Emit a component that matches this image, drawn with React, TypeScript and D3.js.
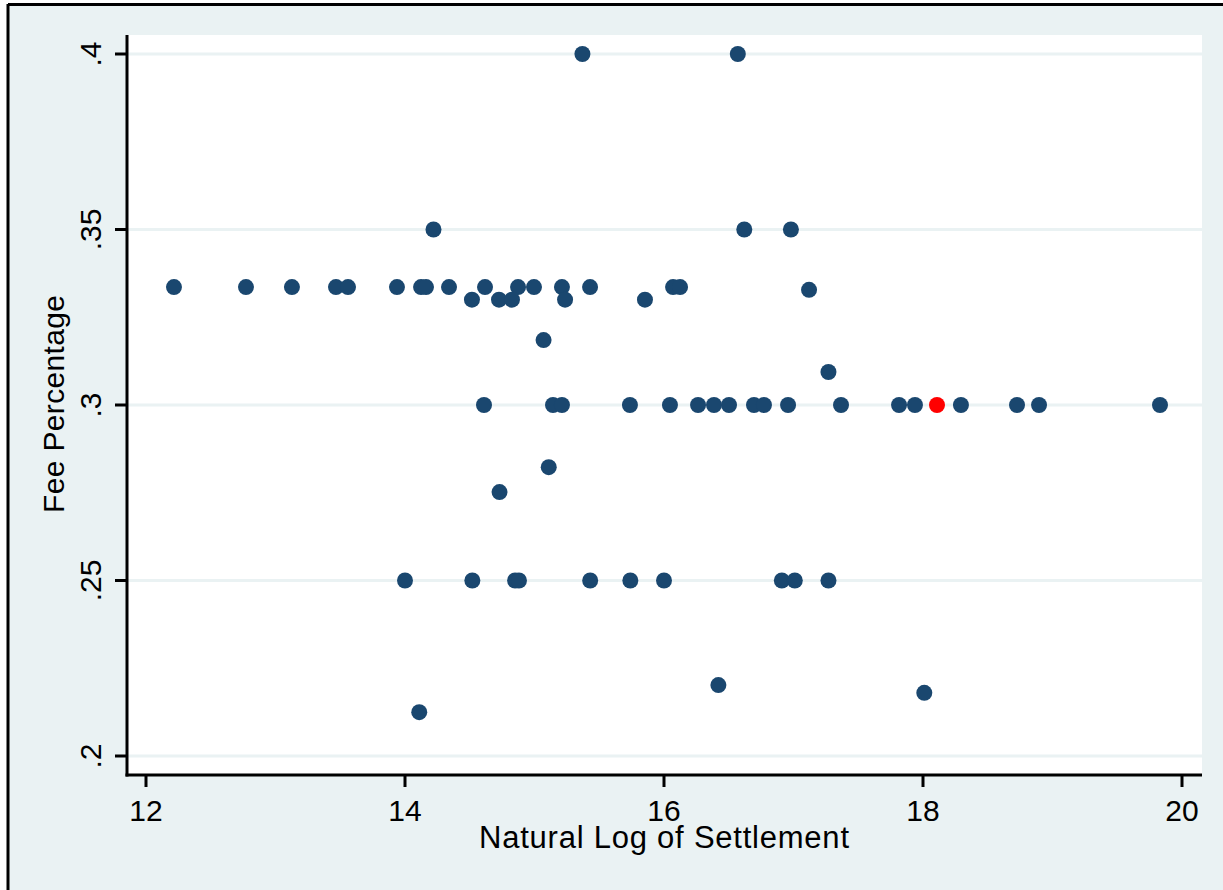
import React from "react";
import * as d3 from "d3";

const logSettlement: number[] = [
  15.37, 16.57,
  14.22, 16.62, 16.98,
  12.216, 12.772, 13.127, 13.467, 13.56, 13.938, 14.124, 14.162, 14.34, 14.618, 14.873, 14.996, 15.212, 15.429, 16.07, 16.124,
  14.517, 14.726, 14.826, 15.236, 15.853,
  17.12, 15.07, 17.27,
  14.61, 15.143, 15.212, 15.737, 16.046, 16.263, 16.386, 16.502, 16.695, 16.772, 16.958, 17.367, 17.815, 17.938, 18.293, 18.726, 18.896, 19.83,
  15.11, 14.73,
  14.0, 14.52, 14.85, 14.88, 15.43, 15.74, 16.0, 16.91, 17.01, 17.27,
  16.42, 18.01, 14.11,
];
const feePct: number[] = [
  0.4, 0.4,
  0.35, 0.35, 0.35,
  0.3336, 0.3336, 0.3336, 0.3336, 0.3336, 0.3336, 0.3336, 0.3336, 0.3336, 0.3336, 0.3336, 0.3336, 0.3336, 0.3336, 0.3336, 0.3336,
  0.33, 0.33, 0.33, 0.33, 0.33,
  0.3328, 0.3185, 0.3094,
  0.3, 0.3, 0.3, 0.3, 0.3, 0.3, 0.3, 0.3, 0.3, 0.3, 0.3, 0.3, 0.3, 0.3, 0.3, 0.3, 0.3, 0.3,
  0.2823, 0.2752,
  0.25, 0.25, 0.25, 0.25, 0.25, 0.25, 0.25, 0.25, 0.25, 0.25,
  0.2202, 0.218, 0.2125,
];
const highlightX = [18.108];
const highlightY = [0.3];

const xTicks = [12, 14, 16, 18, 20];
const yTicks = [0.2, 0.25, 0.3, 0.35, 0.4];
const yTickLabels = [".2", ".25", ".3", ".35", ".4"];
const xTitle = "Natural Log of Settlement";
const yTitle = "Fee Percentage";

const W = 1223;
const H = 890;
const BG = "#eaf2f3";
const NAVY = "#1a476f";
const FONT = "'Liberation Sans', Arial, sans-serif";

export default function App() {
  const plotLeft = 127;
  const plotRight = 1202;
  const plotTop = 35;
  const plotBottom = 775;
  const x = d3.scaleLinear().domain([12, 20]).range([146, 1182]);
  const y = d3.scaleLinear().domain([0.2, 0.4]).range([756, 54]);
  const pts = logSettlement.map((v, i) => ({ x: v, y: feePct[i] }));
  const hl = highlightX.map((v, i) => ({ x: v, y: highlightY[i] }));

  return (
    <div style={{ position: "absolute", left: 0, top: 0 }}>
      <svg width={W} height={H} style={{ display: "block" }}>
        <rect x={0} y={0} width={W} height={H} fill="#ffffff" />
        <rect x={8} y={5} width={W} height={H} fill={BG} />
        <line x1={8} y1={4.5} x2={W} y2={4.5} stroke="#000" strokeWidth={3} />
        <line x1={8} y1={4} x2={8} y2={H} stroke="#000" strokeWidth={3} />
        <rect x={plotLeft} y={plotTop} width={plotRight - plotLeft} height={plotBottom - plotTop} fill="#ffffff" />
        {yTicks.map((t) => (
          <line key={"g" + t} x1={plotLeft} x2={plotRight} y1={y(t)} y2={y(t)} stroke={BG} strokeWidth={3} />
        ))}
        {pts.map((p, i) => (
          <circle key={"p" + i} cx={x(p.x)} cy={y(p.y)} r={8} fill={NAVY} />
        ))}
        {hl.map((p, i) => (
          <circle key={"h" + i} cx={x(p.x)} cy={y(p.y)} r={8} fill="#ff0000" />
        ))}
        <line x1={plotLeft} x2={plotLeft} y1={plotTop} y2={plotBottom + 1.5} stroke="#000" strokeWidth={3} />
        <line x1={plotLeft - 1.5} x2={plotRight} y1={plotBottom} y2={plotBottom} stroke="#000" strokeWidth={3} />
        {yTicks.map((t, i) => (
          <g key={"yt" + t}>
            <line x1={plotLeft - 12} x2={plotLeft} y1={y(t)} y2={y(t)} stroke="#000" strokeWidth={3} />
            <text
              transform={`translate(${plotLeft - 26},${y(t)}) rotate(-90)`}
              textAnchor="middle"
              fontFamily={FONT}
              fontSize={30}
              fill="#000"
            >
              {yTickLabels[i]}
            </text>
          </g>
        ))}
        {xTicks.map((t) => (
          <g key={"xt" + t}>
            <line x1={x(t)} x2={x(t)} y1={plotBottom} y2={plotBottom + 12} stroke="#000" strokeWidth={3} />
            <text x={x(t)} y={plotBottom + 46} textAnchor="middle" fontFamily={FONT} fontSize={30} fill="#000">
              {t}
            </text>
          </g>
        ))}
        <text
          x={664}
          y={848}
          textAnchor="middle"
          fontFamily={FONT}
          fontSize={31}
          textLength={370}
          lengthAdjust="spacing"
          fill="#000"
        >
          {xTitle}
        </text>
        <text
          transform={`translate(64,404) rotate(-90)`}
          textAnchor="middle"
          fontFamily={FONT}
          fontSize={30}
          textLength={218}
          lengthAdjust="spacing"
          fill="#000"
        >
          {yTitle}
        </text>
      </svg>
    </div>
  );
}
